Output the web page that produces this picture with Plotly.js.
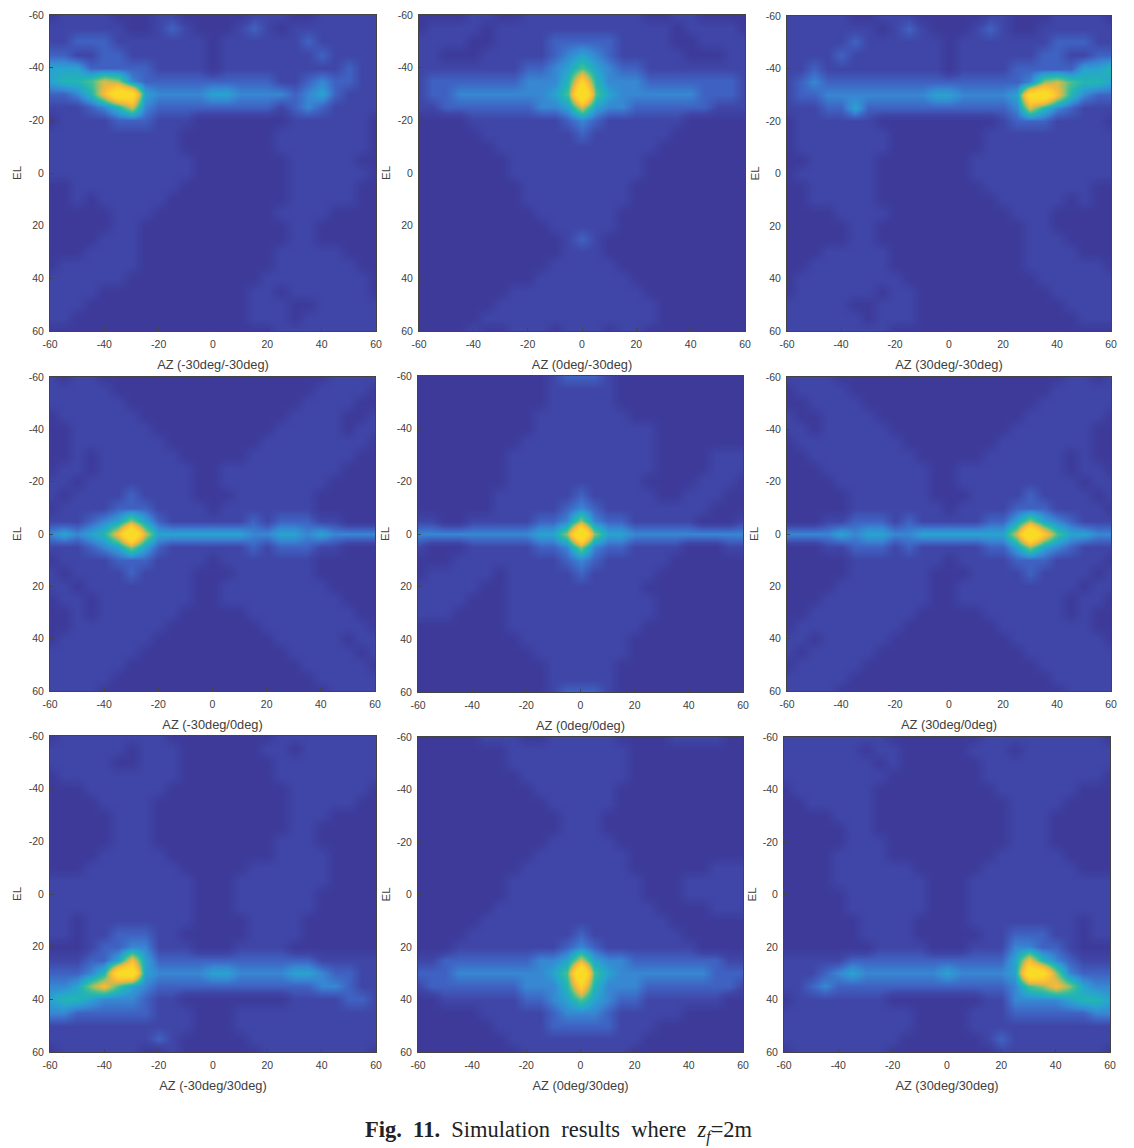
<!DOCTYPE html>
<html><head><meta charset="utf-8">
<script src="https://cdn.plot.ly/plotly-3.0.1.min.js"></script>
<style>html,body{margin:0;padding:0;background:#fff}</style></head>
<body><div id="chart" style="width:1134px;height:1148px"></div>
<script>
// Angle samples (degrees), every 5 degrees
const azimuth=[-60,-55,-50,-45,-40,-35,-30,-25,-20,-15,-10,-5,0,5,10,15,20,25,30,35,40,45,50,55,60];
const elevation=[-60,-55,-50,-45,-40,-35,-30,-25,-20,-15,-10,-5,0,5,10,15,20,25,30,35,40,45,50,55,60];
const tickValues=[-60,-40,-20,0,20,40,60];
const tickLabels=['-60','-40','-20','0','20','40','60'];
const panelTitles=['AZ (-30deg/-30deg)','AZ (0deg/-30deg)','AZ (30deg/-30deg)','AZ (-30deg/0deg)','AZ (0deg/0deg)','AZ (30deg/0deg)','AZ (-30deg/30deg)','AZ (0deg/30deg)','AZ (30deg/30deg)'];

const zAm30Em30=[
[0,1,1,1,1,0,0,0,1,1,0,0,0,0,0,1,1,1,0,0,1,1,1,1,1],
[1,1,1,1,1,1,0,0,1,2,1,0,0,0,1,2,1,0,1,1,1,1,1,1,1],
[1,1,2,2,2,1,1,1,1,1,1,1,0,1,1,1,1,1,1,2,1,1,1,1,1],
[2,2,1,1,2,2,1,1,1,1,1,1,0,1,1,1,1,1,1,1,2,1,1,1,1],
[4,4,4,2,2,2,2,2,1,1,1,1,0,1,1,1,1,1,1,1,1,1,2,1,1],
[4,5,5,6,8,7,3,2,2,2,2,2,2,2,2,2,2,1,1,2,3,2,2,1,1],
[2,2,3,5,9,14,13,4,3,3,3,3,4,4,3,3,3,3,2,3,4,2,1,1,1],
[1,1,1,2,3,5,8,3,2,2,2,2,2,2,2,2,2,1,2,3,2,1,1,1,1],
[0,1,1,1,1,2,2,2,1,1,1,0,0,0,0,0,0,0,1,1,1,1,1,1,0],
[1,1,1,1,1,1,1,1,1,1,0,0,0,0,0,0,0,1,1,1,1,1,1,1,0],
[1,1,1,1,1,1,1,1,1,1,0,0,0,0,0,0,0,1,1,1,1,1,1,1,0],
[1,1,1,1,1,1,1,1,1,1,1,0,0,0,0,0,0,0,1,1,1,1,1,0,0],
[1,1,1,1,1,1,1,1,1,1,1,0,0,0,0,0,0,0,1,1,1,1,1,1,0],
[0,0,1,1,1,1,1,1,1,1,0,0,0,0,0,0,0,0,1,1,1,1,1,0,0],
[0,0,1,0,1,1,1,1,1,0,0,0,0,0,0,0,0,0,1,1,1,1,1,0,0],
[0,0,0,0,0,1,1,1,0,0,0,0,0,0,0,0,0,1,1,1,1,0,0,0,0],
[0,0,0,0,0,1,1,0,0,0,0,0,0,0,0,0,0,0,1,1,0,0,0,0,0],
[0,0,0,0,1,1,1,0,0,0,0,0,0,0,0,0,0,0,1,1,0,0,0,0,0],
[0,0,0,1,1,1,1,0,0,0,0,0,0,0,0,0,0,1,1,1,1,1,0,0,0],
[0,1,1,1,1,1,1,0,0,0,0,0,0,0,0,0,0,1,1,1,1,1,1,0,0],
[1,1,1,1,1,1,0,0,0,0,0,0,0,0,0,0,1,1,1,1,1,1,1,1,0],
[1,1,1,1,0,0,0,0,0,0,0,0,0,0,0,1,1,0,1,1,1,1,1,1,0],
[1,1,1,0,0,0,0,0,0,0,0,0,0,0,0,1,1,1,0,0,1,1,1,1,1],
[1,1,0,0,0,0,0,0,0,0,0,0,0,0,0,1,1,1,0,1,1,1,1,1,1],
[0,0,0,0,0,0,0,0,0,0,0,0,0,0,0,0,0,1,1,1,1,1,1,1,1]];

const zA0Em30=[
[0,0,0,0,1,1,0,0,1,1,1,1,1,1,1,1,1,0,0,1,1,0,0,0,0],
[0,1,1,1,1,0,1,1,1,1,1,1,1,1,1,1,1,1,1,0,1,1,1,1,0],
[1,1,1,1,0,0,1,1,1,1,2,2,2,2,2,1,1,1,1,0,0,1,1,1,1],
[1,1,0,0,0,1,1,1,1,1,2,3,4,3,2,1,1,1,1,1,0,0,0,1,1],
[1,1,1,1,1,1,1,1,2,2,3,4,6,4,3,2,2,1,1,1,1,1,1,1,1],
[1,2,2,2,2,2,2,2,3,3,3,5,11,5,3,3,3,2,2,2,2,2,2,2,1],
[1,2,2,3,3,3,3,3,3,3,4,6,16,6,4,3,3,3,3,3,3,2,2,2,1],
[1,1,2,2,2,2,2,2,2,3,3,4,8,4,3,3,2,2,2,2,2,2,1,1,1],
[0,0,0,0,1,1,1,1,1,1,1,2,3,2,1,1,1,1,1,1,0,0,0,0,0],
[0,0,0,0,0,1,1,1,1,1,1,1,2,1,1,1,1,1,1,0,0,0,0,0,0],
[0,0,0,0,0,0,1,1,1,1,1,1,1,1,1,1,1,1,0,0,0,0,0,0,0],
[0,0,0,0,0,0,0,1,1,1,1,1,1,1,1,1,1,0,0,0,0,0,0,0,0],
[0,0,0,0,0,0,0,1,1,1,1,1,1,1,1,1,1,0,0,0,0,0,0,0,0],
[0,0,0,0,0,0,0,0,1,1,1,1,1,1,1,1,0,0,0,0,0,0,0,0,0],
[0,0,0,0,0,0,0,0,1,1,1,1,1,1,1,1,0,0,0,0,0,0,0,0,0],
[0,0,0,0,0,0,0,0,0,1,1,1,1,1,1,0,0,0,0,0,0,0,0,0,0],
[0,0,0,0,0,0,0,0,0,0,1,1,1,1,1,0,0,0,0,0,0,0,0,0,0],
[0,0,0,0,0,0,0,0,0,0,0,1,2,1,0,0,0,0,0,0,0,0,0,0,0],
[0,0,0,0,0,0,0,0,0,0,0,1,1,1,0,0,0,0,0,0,0,0,0,0,0],
[0,0,0,0,0,0,0,0,0,0,1,1,1,1,1,0,0,0,0,0,0,0,0,0,0],
[0,0,0,0,0,0,0,0,0,1,1,1,1,1,1,1,0,0,0,0,0,0,0,0,0],
[0,0,0,0,0,0,0,1,1,1,1,1,1,1,1,1,1,0,0,0,0,0,0,0,0],
[0,0,0,0,0,0,1,1,1,1,1,1,1,1,1,1,1,1,0,0,0,0,0,0,0],
[0,0,0,0,0,1,1,1,1,1,1,1,1,1,1,1,1,1,0,0,0,0,0,0,0],
[0,0,0,0,1,0,0,1,1,1,0,1,1,1,0,1,1,0,0,0,0,0,0,0,0]];

const zA30Em30=[
[1,1,1,1,1,0,0,1,1,1,0,0,0,0,0,1,1,0,0,0,1,1,1,1,0],
[1,1,1,1,1,1,1,0,1,2,1,0,0,0,1,2,1,0,0,1,1,1,1,1,1],
[1,1,1,1,1,2,1,1,1,1,1,1,0,1,1,1,1,1,1,1,2,2,2,1,1],
[1,1,1,1,2,1,1,1,1,1,1,1,0,1,1,1,1,1,1,2,2,1,1,2,2],
[1,1,2,1,1,1,1,1,1,1,1,1,0,1,1,1,1,2,2,2,2,2,4,4,5],
[1,2,3,2,2,2,2,2,2,2,2,2,2,2,2,2,2,2,3,7,8,6,5,5,4],
[1,2,2,3,3,3,3,3,3,3,3,4,4,3,3,3,3,4,13,14,9,5,3,2,2],
[1,1,1,2,2,4,2,2,2,2,2,2,2,2,2,2,2,3,8,5,3,2,1,1,1],
[0,1,1,1,1,1,1,0,0,0,0,0,0,0,0,0,1,2,2,2,1,1,1,1,0],
[0,1,1,1,1,1,1,1,0,0,0,0,0,0,0,1,1,1,1,1,1,1,1,1,1],
[0,1,1,1,1,1,1,1,0,0,0,0,0,0,0,1,1,1,1,1,1,1,1,1,1],
[0,0,1,1,1,1,1,0,0,0,0,0,0,0,1,1,1,1,1,1,1,1,1,1,1],
[0,1,1,1,1,1,1,0,0,0,0,0,0,0,1,1,1,1,1,1,1,1,1,1,1],
[0,0,1,1,1,1,1,0,0,0,0,0,0,0,0,1,1,1,1,1,1,1,1,0,0],
[0,0,1,1,1,1,1,0,0,0,0,0,0,0,0,0,1,1,1,1,1,0,1,0,0],
[0,0,0,0,1,1,1,1,0,0,0,0,0,0,0,0,0,1,1,1,0,0,0,0,0],
[0,0,0,0,0,1,1,0,0,0,0,0,0,0,0,0,0,0,1,1,0,0,0,0,0],
[0,0,0,0,0,1,1,0,0,0,0,0,0,0,0,0,0,0,1,1,1,0,0,0,0],
[0,0,0,1,1,1,1,1,0,0,0,0,0,0,0,0,0,0,1,1,1,1,0,0,0],
[0,0,1,1,1,1,1,1,0,0,0,0,0,0,0,0,0,0,1,1,1,1,1,1,0],
[0,1,1,1,1,1,1,1,1,0,0,0,0,0,0,0,0,0,0,1,1,1,1,1,1],
[0,1,1,1,1,1,1,0,1,1,0,0,0,0,0,0,0,0,0,0,1,1,1,1,1],
[1,1,1,1,1,0,0,1,1,1,0,0,0,0,0,0,0,0,0,0,0,1,1,1,1],
[1,1,1,1,1,1,0,1,1,1,0,0,0,0,0,0,0,0,0,0,0,0,1,1,1],
[1,1,1,1,1,1,1,1,0,0,0,0,0,0,0,0,0,0,0,0,0,0,0,0,0]];

const zAm30E0=[
[1,0,1,1,0,0,0,0,0,0,0,0,0,0,0,0,0,0,0,0,0,1,1,1,1],
[1,1,1,1,1,0,0,0,0,0,0,0,0,0,0,0,0,0,0,0,1,1,1,1,0],
[1,1,1,1,1,1,0,0,0,0,0,0,0,0,0,0,0,0,0,1,1,1,1,0,0],
[0,1,1,1,1,1,1,0,0,0,0,0,0,0,0,0,0,0,1,1,1,1,0,0,1],
[0,0,1,1,1,1,1,1,0,0,0,0,0,0,0,0,0,1,1,1,1,1,0,1,1],
[0,0,1,1,1,1,1,1,1,0,0,0,0,0,0,0,1,1,1,1,1,1,1,1,0],
[0,0,1,0,1,1,1,1,1,1,0,0,0,0,0,1,1,1,1,1,1,1,1,0,0],
[0,1,1,0,1,1,1,1,1,1,1,0,0,1,1,1,1,1,1,1,1,1,0,0,0],
[1,1,0,1,1,1,1,1,1,1,1,0,0,1,1,1,1,1,1,1,1,0,0,0,0],
[1,0,1,1,1,1,2,1,1,1,1,0,0,0,1,1,1,1,1,1,0,0,0,0,0],
[0,1,1,1,1,2,2,2,1,1,1,1,0,1,1,1,1,1,1,1,0,0,0,0,0],
[1,1,1,2,3,4,7,4,2,1,1,1,1,1,1,2,1,2,2,2,1,1,0,0,0],
[3,4,3,4,5,9,16,8,4,4,4,4,4,4,4,3,3,4,4,3,4,3,3,3,3],
[1,1,1,2,3,4,7,4,2,1,1,1,1,1,1,2,1,2,2,2,1,1,0,0,0],
[0,1,1,1,1,2,2,2,1,1,1,1,0,1,1,1,1,1,1,1,0,0,0,0,0],
[1,0,1,1,1,1,2,1,1,1,1,0,0,0,1,1,1,1,1,1,0,0,0,0,0],
[1,1,0,1,1,1,1,1,1,1,1,0,0,1,1,1,1,1,1,1,1,0,0,0,0],
[0,1,1,0,1,1,1,1,1,1,1,0,0,1,1,1,1,1,1,1,1,1,0,0,0],
[0,0,1,0,1,1,1,1,1,1,0,0,0,0,0,1,1,1,1,1,1,1,1,0,0],
[0,0,1,1,1,1,1,1,1,0,0,0,0,0,0,0,1,1,1,1,1,1,1,1,0],
[0,1,1,1,1,1,1,1,0,0,0,0,0,0,0,0,0,1,1,1,1,1,0,1,1],
[1,1,1,1,1,1,1,0,0,0,0,0,0,0,0,0,0,0,1,1,1,1,1,0,1],
[1,1,1,1,1,1,0,0,0,0,0,0,0,0,0,0,0,0,0,1,1,1,1,1,0],
[1,1,1,1,1,0,0,0,0,0,0,0,0,0,0,0,0,0,0,0,1,1,1,1,1],
[1,1,1,1,0,0,0,0,0,0,0,0,0,0,0,0,0,0,0,0,0,1,1,1,1]];

const zA0E0=[
[0,0,0,0,0,0,0,0,0,0,1,2,2,2,1,0,0,0,0,0,0,0,0,0,0],
[0,0,0,0,0,0,0,0,0,0,1,1,1,1,1,0,0,0,0,0,0,0,0,0,0],
[0,0,0,0,0,0,0,0,0,0,1,1,1,1,1,0,0,0,0,0,0,0,0,0,0],
[0,0,0,0,0,0,0,0,0,1,1,1,1,1,1,1,0,0,0,0,0,0,0,0,0],
[0,0,0,0,0,0,0,0,0,1,1,1,1,1,1,1,1,1,0,0,0,0,0,0,0],
[0,0,0,0,0,0,0,0,1,1,1,1,1,1,1,1,1,1,0,0,0,0,0,0,0],
[0,0,0,0,0,0,0,1,1,1,1,1,1,1,1,1,1,1,0,0,0,0,1,1,1],
[0,0,0,0,0,0,0,1,1,1,1,1,1,1,1,1,1,1,0,0,0,0,1,1,1],
[0,0,0,0,0,0,0,1,1,1,1,1,1,1,1,1,1,0,0,0,0,1,1,1,0],
[0,0,0,0,0,0,1,1,1,1,1,1,2,1,1,1,1,1,0,0,1,1,1,0,0],
[0,0,0,0,0,0,1,1,1,1,1,2,3,2,1,1,1,1,1,1,1,1,0,0,0],
[1,1,0,0,1,1,1,1,1,2,2,3,7,3,2,2,1,1,1,1,1,0,0,0,1],
[3,3,3,3,3,3,3,3,3,4,4,7,16,7,4,4,3,3,3,3,3,3,3,3,3],
[1,0,0,0,1,1,1,1,1,2,2,3,7,3,2,2,1,1,1,1,0,0,0,1,1],
[0,0,0,1,1,1,1,1,1,1,1,2,3,2,1,1,1,1,1,0,0,0,0,0,0],
[0,1,1,1,1,1,0,1,1,1,1,1,2,1,1,1,1,1,0,0,0,0,0,0,0],
[1,1,1,1,1,0,0,1,1,1,1,1,1,1,1,1,1,0,0,0,0,0,0,0,0],
[1,1,1,1,0,0,0,1,1,1,1,1,1,1,1,1,1,1,0,0,0,0,0,0,0],
[1,1,1,0,0,0,0,1,1,1,1,1,1,1,1,1,1,1,0,0,0,0,0,0,0],
[0,0,0,0,0,0,0,1,1,1,1,1,1,1,1,1,1,0,0,0,0,0,0,0,0],
[0,0,0,0,0,0,0,0,1,1,1,1,1,1,1,1,0,0,0,0,0,0,0,0,0],
[0,0,0,0,0,0,0,0,0,1,1,1,1,1,1,1,0,0,0,0,0,0,0,0,0],
[0,0,0,0,0,0,0,0,0,0,1,1,1,1,1,0,0,0,0,0,0,0,0,0,0],
[0,0,0,0,0,0,0,0,0,0,1,1,1,1,1,0,0,0,0,0,0,0,0,0,0],
[0,0,0,0,0,0,0,0,0,0,1,2,2,2,1,0,0,0,0,0,0,0,0,0,0]];

const zA30E0=[
[1,1,1,1,0,0,0,0,0,0,0,0,0,0,0,0,0,0,0,0,0,1,1,0,1],
[0,1,1,1,1,0,0,0,0,0,0,0,0,0,0,0,0,0,0,0,1,1,1,1,1],
[0,0,1,1,1,1,0,0,0,0,0,0,0,0,0,0,0,0,0,1,1,1,1,1,1],
[1,0,0,1,1,1,1,0,0,0,0,0,0,0,0,0,0,0,1,1,1,1,1,1,0],
[1,1,0,1,1,1,1,1,0,0,0,0,0,0,0,0,0,1,1,1,1,1,1,0,0],
[0,1,1,1,1,1,1,1,1,0,0,0,0,0,0,0,1,1,1,1,1,1,1,0,0],
[0,0,1,1,1,1,1,1,1,1,0,0,0,0,0,1,1,1,1,1,1,0,1,0,0],
[0,0,0,1,1,1,1,1,1,1,1,0,0,1,1,1,1,1,1,1,1,0,1,1,0],
[0,0,0,0,1,1,1,1,1,1,1,0,0,1,1,1,1,1,1,1,1,1,0,1,1],
[0,0,0,0,0,1,1,1,1,1,1,0,0,0,1,1,1,1,2,1,1,1,1,0,1],
[0,0,0,0,0,1,1,1,1,1,1,1,0,1,1,1,1,2,2,2,1,1,1,1,0],
[0,0,0,1,1,2,2,2,1,2,1,1,1,1,1,2,2,4,7,4,3,2,1,1,1],
[3,3,3,3,4,3,4,4,3,3,4,4,4,4,4,4,4,8,16,10,6,4,4,3,3],
[0,0,0,1,1,2,2,2,1,2,1,1,1,1,1,2,2,4,7,4,3,2,1,1,1],
[0,0,0,0,0,1,1,1,1,1,1,1,0,1,1,1,1,2,2,2,1,1,1,1,0],
[0,0,0,0,0,1,1,1,1,1,1,0,0,0,1,1,1,1,2,1,1,1,1,0,1],
[0,0,0,0,1,1,1,1,1,1,1,0,0,1,1,1,1,1,1,1,1,1,0,1,1],
[0,0,0,1,1,1,1,1,1,1,1,0,0,1,1,1,1,1,1,1,1,0,1,1,0],
[0,0,1,1,1,1,1,1,1,1,0,0,0,0,0,1,1,1,1,1,1,0,1,0,0],
[0,1,1,1,1,1,1,1,1,0,0,0,0,0,0,0,1,1,1,1,1,1,1,0,0],
[1,1,0,1,1,1,1,1,0,0,0,0,0,0,0,0,0,1,1,1,1,1,1,1,0],
[1,0,1,1,1,1,1,0,0,0,0,0,0,0,0,0,0,0,1,1,1,1,1,1,1],
[0,1,1,1,1,1,0,0,0,0,0,0,0,0,0,0,0,0,0,1,1,1,1,1,1],
[1,1,1,1,1,0,0,0,0,0,0,0,0,0,0,0,0,0,0,0,1,1,1,1,1],
[1,1,1,1,0,0,0,0,0,0,0,0,0,0,0,0,0,0,0,0,0,1,1,1,1]];

const zAm30E30=[
[0,1,1,1,1,1,1,1,1,0,0,0,0,0,0,0,0,1,1,1,1,1,1,1,1],
[1,1,1,1,1,1,0,1,1,1,0,0,0,0,0,0,1,1,0,1,1,1,1,1,1],
[1,1,1,1,1,0,0,1,1,1,0,0,0,0,0,0,0,1,1,1,1,1,1,1,1],
[0,1,1,1,1,1,1,1,1,1,0,0,0,0,0,0,0,1,1,1,1,1,1,1,1],
[0,0,0,1,1,1,1,1,1,0,0,0,0,0,0,0,0,0,1,1,1,1,1,1,0],
[0,0,0,0,1,1,1,1,0,0,0,0,0,0,0,0,0,0,1,1,1,1,1,0,0],
[0,0,0,0,0,1,1,1,0,0,0,0,0,0,0,0,0,0,1,1,1,0,0,0,0],
[0,0,0,0,0,1,1,1,0,0,0,0,0,0,0,0,0,0,1,1,0,0,0,0,0],
[0,0,0,0,0,1,1,1,0,0,0,0,0,0,0,0,0,1,1,1,0,0,0,0,0],
[0,0,0,0,1,1,1,1,1,0,0,0,0,0,0,0,0,1,1,1,1,0,0,0,0],
[0,0,0,1,1,1,1,1,1,1,0,0,0,0,0,1,1,1,1,1,1,0,0,0,0],
[1,1,1,1,1,1,1,1,1,1,1,0,0,0,1,1,1,1,1,1,1,0,0,0,0],
[1,1,1,1,1,1,1,1,1,1,1,0,0,0,1,1,1,1,1,1,0,0,0,0,0],
[1,1,1,1,1,1,1,1,1,1,1,0,0,0,1,1,1,1,1,1,0,0,0,0,0],
[1,1,0,1,1,1,1,1,1,1,1,0,0,0,0,1,1,1,1,0,0,0,0,0,0],
[1,1,0,1,1,2,2,2,1,1,0,0,0,0,0,1,1,1,1,0,0,0,0,0,0],
[0,0,0,1,2,2,3,3,1,1,1,0,0,0,1,1,1,1,0,0,0,0,0,0,0],
[1,1,1,2,2,4,9,4,2,2,2,2,2,2,2,2,2,2,2,2,1,1,1,1,1],
[2,2,2,3,5,13,14,4,3,3,3,3,4,4,3,3,3,3,4,4,3,2,2,1,1],
[3,3,4,7,9,6,4,3,2,2,2,2,2,2,2,2,2,2,2,2,3,3,2,1,1],
[4,5,5,4,3,3,3,2,1,1,0,0,0,0,0,0,0,0,1,1,1,1,2,2,1],
[3,3,2,2,2,2,2,2,1,1,1,0,0,0,1,1,1,1,1,1,1,1,1,1,1],
[1,1,1,1,1,1,1,1,1,1,1,0,0,0,1,1,1,1,1,1,1,1,1,1,1],
[1,1,1,1,1,1,1,1,2,1,0,0,0,0,0,1,1,1,1,1,1,1,1,1,1],
[0,1,1,1,1,1,1,0,0,1,0,0,0,0,0,0,1,1,1,1,1,1,1,1,0]];

const zA0E30=[
[0,0,0,0,0,1,1,1,0,0,1,1,1,1,1,0,0,0,0,1,1,1,1,0,0],
[0,0,0,0,0,0,0,1,1,1,1,1,1,1,1,1,0,0,0,0,0,0,0,0,0],
[0,0,0,0,0,0,0,1,1,1,1,1,1,1,1,1,0,0,0,0,0,0,0,0,0],
[0,0,0,0,0,0,0,0,1,1,1,1,1,1,1,1,0,0,0,0,0,0,0,0,0],
[0,0,0,0,0,0,0,0,0,1,1,1,1,1,1,0,0,0,0,0,0,0,0,0,0],
[0,0,0,0,0,0,0,0,0,0,1,1,1,1,1,0,0,0,0,0,0,0,0,0,0],
[0,0,0,0,0,0,0,0,0,0,0,1,1,1,0,0,0,0,0,0,0,0,0,0,0],
[0,0,0,0,0,0,0,0,0,0,0,1,1,1,0,0,0,0,0,0,0,0,0,0,0],
[0,0,0,0,0,0,0,0,0,0,1,1,1,1,1,0,0,0,0,0,0,0,0,0,0],
[0,0,0,0,0,0,0,0,0,1,1,1,1,1,1,1,0,0,0,0,0,0,0,0,0],
[0,0,0,0,0,0,0,0,1,1,1,1,1,1,1,1,0,0,0,0,0,0,1,1,1],
[0,0,0,0,0,0,0,1,1,1,1,1,1,1,1,1,1,0,0,0,1,1,1,1,1],
[0,0,0,0,0,0,0,1,1,1,1,1,1,1,1,1,1,0,0,0,1,1,1,1,1],
[0,0,0,0,0,0,1,1,1,1,1,1,1,1,1,1,1,1,0,0,0,0,1,1,1],
[0,0,0,0,0,1,1,1,1,1,1,1,1,1,1,1,1,1,1,0,0,0,0,0,0],
[0,0,0,0,1,1,1,1,1,1,1,1,2,1,1,1,1,1,1,1,0,0,0,0,0],
[0,0,0,1,1,1,1,1,1,1,1,2,3,2,1,1,1,1,1,1,1,0,0,0,0],
[1,1,2,2,2,2,2,2,2,3,3,4,8,4,3,3,2,2,2,2,2,2,2,1,1],
[2,2,2,3,3,3,3,3,3,3,4,6,16,6,4,3,3,3,3,3,3,3,2,2,2],
[1,2,2,2,2,2,2,2,3,3,3,5,11,5,3,3,3,2,2,2,2,2,2,2,1],
[0,0,1,1,1,1,1,1,2,2,3,4,6,4,3,2,2,1,1,1,1,1,1,0,0],
[0,0,0,0,0,1,1,1,1,1,2,3,3,3,2,1,1,1,1,1,0,0,0,0,0],
[0,0,0,0,0,0,1,1,1,1,2,2,2,2,2,1,1,1,0,0,0,0,0,0,0],
[0,0,0,0,0,0,0,1,1,1,1,1,1,1,1,1,1,0,0,0,0,0,0,0,0],
[0,0,0,0,0,0,0,0,1,1,1,1,1,1,1,1,0,0,0,0,0,0,0,0,0]];

const zA30E30=[
[1,1,1,1,1,1,1,1,0,0,0,0,0,0,0,1,1,1,1,1,1,1,1,1,0],
[1,1,1,1,1,1,0,1,1,0,0,0,0,0,1,1,1,0,1,1,1,1,1,1,1],
[1,1,1,1,1,1,1,0,1,0,0,0,0,0,0,1,1,1,1,1,1,1,1,1,1],
[1,1,1,1,1,1,1,1,0,0,0,0,0,0,0,1,1,1,1,1,1,1,1,1,0],
[0,1,1,1,1,1,1,0,0,0,0,0,0,0,0,0,1,1,1,1,1,1,0,0,0],
[0,0,1,1,1,1,1,0,0,0,0,0,0,0,0,0,0,1,1,1,1,0,0,0,0],
[0,0,0,0,1,1,1,0,0,0,0,0,0,0,0,0,0,1,1,1,0,0,0,0,0],
[0,0,0,0,0,1,1,0,0,0,0,0,0,0,0,0,0,1,1,1,0,0,0,0,0],
[0,0,0,0,0,1,1,1,0,0,0,0,0,0,0,0,0,1,1,1,0,0,0,0,0],
[0,0,0,0,1,1,1,1,0,0,0,0,0,0,0,0,1,1,1,1,1,0,0,0,0],
[0,0,0,0,1,1,1,1,1,1,0,0,0,0,0,1,1,1,1,1,1,1,0,0,0],
[0,0,0,0,1,1,1,1,1,1,1,0,0,0,1,1,1,1,1,1,1,1,1,1,1],
[0,0,0,0,0,1,1,1,1,1,1,0,0,0,1,1,1,1,1,1,1,1,1,1,1],
[0,0,0,0,0,1,1,1,1,1,1,0,0,0,1,1,1,1,1,1,1,1,1,1,1],
[0,0,0,0,0,0,1,1,1,1,0,0,0,0,1,1,1,1,1,1,1,1,0,1,1],
[0,0,0,0,0,0,1,1,1,1,0,0,0,0,0,1,1,2,2,2,1,1,0,1,1],
[0,0,0,0,0,0,0,1,1,1,1,0,0,0,1,1,1,3,3,2,2,1,0,0,0],
[1,1,1,1,1,2,2,2,2,2,2,2,2,2,2,2,2,4,9,5,3,2,1,1,1],
[1,1,1,2,3,4,3,3,3,3,3,3,4,3,3,3,3,4,14,13,7,3,2,2,2],
[1,1,2,3,2,2,2,2,2,2,2,2,2,2,2,2,2,3,6,7,9,7,4,3,3],
[0,1,1,1,1,1,1,1,0,0,0,0,0,0,0,1,1,3,3,3,3,4,5,5,4],
[1,1,1,1,1,1,1,1,1,1,0,0,0,0,1,1,1,2,2,2,2,2,2,3,3],
[1,1,1,1,1,1,1,1,1,1,0,0,0,0,1,1,1,1,1,1,1,1,1,1,1],
[1,1,1,1,1,1,1,1,1,0,0,0,0,0,0,1,2,1,1,1,1,1,1,1,1],
[0,1,1,1,1,1,1,1,0,0,0,0,0,0,0,0,1,1,1,1,1,1,1,1,0]];

const panelValues=[zAm30Em30,zA0Em30,zA30Em30,zAm30E0,zA0E0,zA30E0,zAm30E30,zA0E30,zA30E30];

// Pixel frames of the nine panels: left,right,top,bottom
const frames=[[50,376,15,331],[419,745,15,331],[787,1111,16,331],
[50,375,377,691],[418,743,376,692],[787,1111,377,691],
[50,376,736,1052],[418,743,737,1052],[784,1110,737,1052]];
const W=1134,H=1148;
const topLevel=16;
const levels=[[0,'#3d3a9a'],[1,'#3f46a7'],[2,'#3f62c2'],[3,'#3787d2'],[4,'#28a3cf'],[5,'#22b5b2'],[6,'#45be93'],[7,'#92c06c'],[8,'#d8ba45'],[9,'#fbb93a'],[10,'#fac92f'],[12,'#f9da25'],[16,'#f9da25']];
const scale=levels.map(l=>[l[0]/topLevel,l[1]]);

const data=[],layout={width:W,height:H,margin:{l:0,r:0,t:0,b:0},paper_bgcolor:'#fff',plot_bgcolor:'#3d3a9a',showlegend:false,
 font:{family:'"Liberation Sans",Arial,sans-serif',color:'#404040',size:10.5},annotations:[]};
frames.forEach((f,i)=>{
 const n=i+1,xn=n===1?'xaxis':'xaxis'+n,yn=n===1?'yaxis':'yaxis'+n;
 data.push({type:'heatmap',x:azimuth,y:elevation,z:panelValues[i],zmin:0,zmax:topLevel,zsmooth:'best',colorscale:scale,showscale:false,xaxis:'x'+(n===1?'':n),yaxis:'y'+(n===1?'':n)});
 const common={tickmode:'array',tickvals:tickValues,ticktext:tickLabels,ticks:'inside',ticklen:3,tickwidth:1,tickcolor:'#444',showline:true,linecolor:'#444',linewidth:1,mirror:true,showgrid:false,zeroline:false,tickfont:{size:10.5,color:'#404040'}};
 layout[xn]=Object.assign({},common,{domain:[f[0]/W,f[1]/W],range:[-60,60],anchor:'y'+(n===1?'':n),
   title:{text:panelTitles[i],font:{size:12.8,color:'#404040'},standoff:11},ticklabelstandoff:3});
 layout[yn]=Object.assign({},common,{domain:[1-f[3]/H,1-f[2]/H],range:[60,-60],anchor:'x'+(n===1?'':n),
   ticklabelstandoff:3});
 layout.annotations.push({xref:'paper',yref:'paper',x:(f[0]-33)/W,y:1-(f[2]+f[3])/2/H,xanchor:'center',yanchor:'middle',text:'EL',showarrow:false,textangle:-90,font:{size:11.5,color:'#404040'}});
});
layout.annotations.push({xref:'paper',yref:'paper',x:559/W,y:1-1131/H,xanchor:'center',yanchor:'middle',showarrow:false,
 text:'<b>Fig.  11.</b>  Simulation  results  where  <i>z<sub>f</sub></i>=2m',font:{family:'"Liberation Serif","Times New Roman",serif',size:22.5,color:'#222'}});
Plotly.newPlot('chart',data,layout,{displayModeBar:false,staticPlot:true});
</script></body></html>
